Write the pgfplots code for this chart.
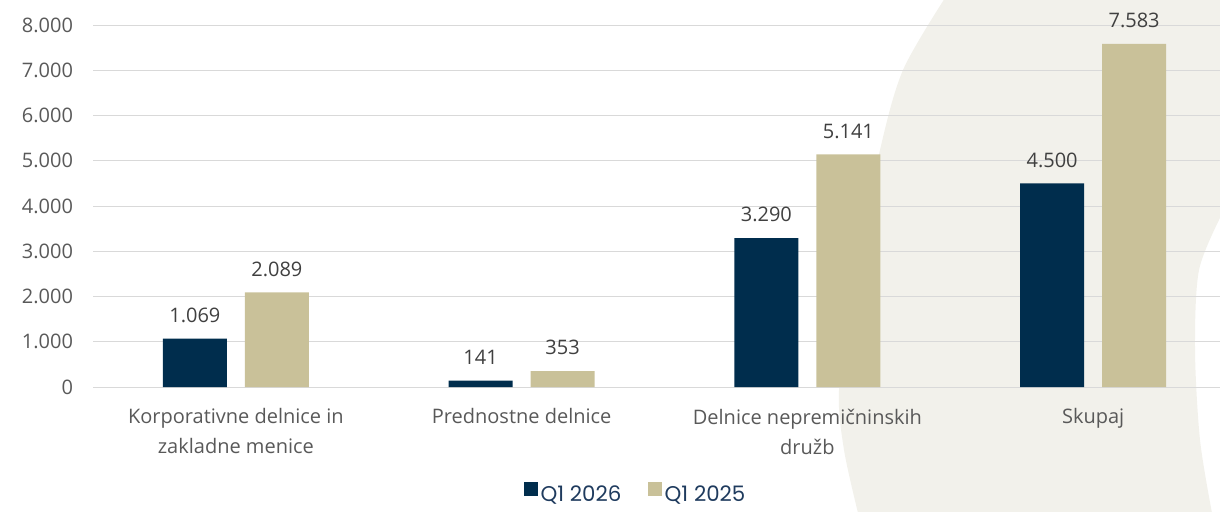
\documentclass[border=0pt]{standalone}
\usepackage{pgfplots}
\pgfplotsset{compat=1.18}
\usepackage{fontspec}
\setmainfont{Open Sans}
\newfontfamily\legfont{Poppins}
\definecolor{navy}{HTML}{002D4D}
\definecolor{sand}{HTML}{C9C199}
\definecolor{bgsand}{HTML}{F2F1EB}
\definecolor{gridc}{HTML}{D9D9D9}
\definecolor{tickc}{HTML}{595959}
\definecolor{labc}{HTML}{404040}
\definecolor{legc}{HTML}{1F3B5E}
\pgfkeys{/pgf/number format/.cd, 1000 sep={.}, assume math mode=true}
\begin{document}
\begin{tikzpicture}
\begin{scope}[x=0.75pt,y=-0.75pt,shift={(0,383.25pt)}]
\fill[bgsand] plot[smooth] coordinates {(945,-2) (903,70) (880,150) (852,290) (839,390) (844,450) (858,513)} -- plot[smooth] coordinates {(1212,513) (1200,440) (1195,350) (1199,270) (1222,214)} -- (1222,-2) -- cycle;
\end{scope}
\begin{axis}[
  at={(69.75pt,93pt)}, anchor=south west,
  scale only axis, width=857.25pt, height=271.5pt,
  xmin=-0.5, xmax=3.5, ymin=0, ymax=8000,
  ybar=13.5pt, bar width=48pt,
  axis line style={draw=none},
  ymajorgrids, grid style={gridc, line width=0.75pt},
  ytick={0,1000,...,8000}, xtick={0,1,2,3},
  xticklabels={{Korporativne delnice in\\zakladne menice}, {Prednostne delnice}, {Delnice nepremičninskih\\družb}, {Skupaj}},
  tick style={draw=none}, major tick length=0pt,
  scaled y ticks=false,
  ticklabel style={font=\fontsize{15}{22.5}\selectfont, text=tickc},
  yticklabel style={anchor=east, xshift=-11.5pt},
  xticklabel style={align=center, yshift=-12.75pt},
  nodes near coords,
  nodes near coords style={font=\fontsize{15}{18}\selectfont, text=labc, yshift=8.5pt},
  legend style={at={(0.475,-0.295)}, anchor=center, draw=none, fill=none,
    legend columns=2, font=\legfont\fontsize{16}{19}\selectfont, text=legc,
    /tikz/every even column/.append style={column sep=18pt},
    /tikz/every node/.append style={inner xsep=2pt}},
  legend image code/.code={\fill[#1] (0pt,-1pt) rectangle (10.5pt,9.5pt);},
  clip=false
]
\addplot[fill=navy, draw=none] coordinates {(0,1069) (1,141) (2,3290) (3,4500)};
\addplot[fill=sand, draw=none] coordinates {(0,2089) (1,353) (2,5141) (3,7583)};
\legend{Q1 2026, Q1 2025}
\end{axis}
\pgfresetboundingbox
\useasboundingbox (0,0) rectangle (915pt,383.25pt);
\end{tikzpicture}
\end{document}
